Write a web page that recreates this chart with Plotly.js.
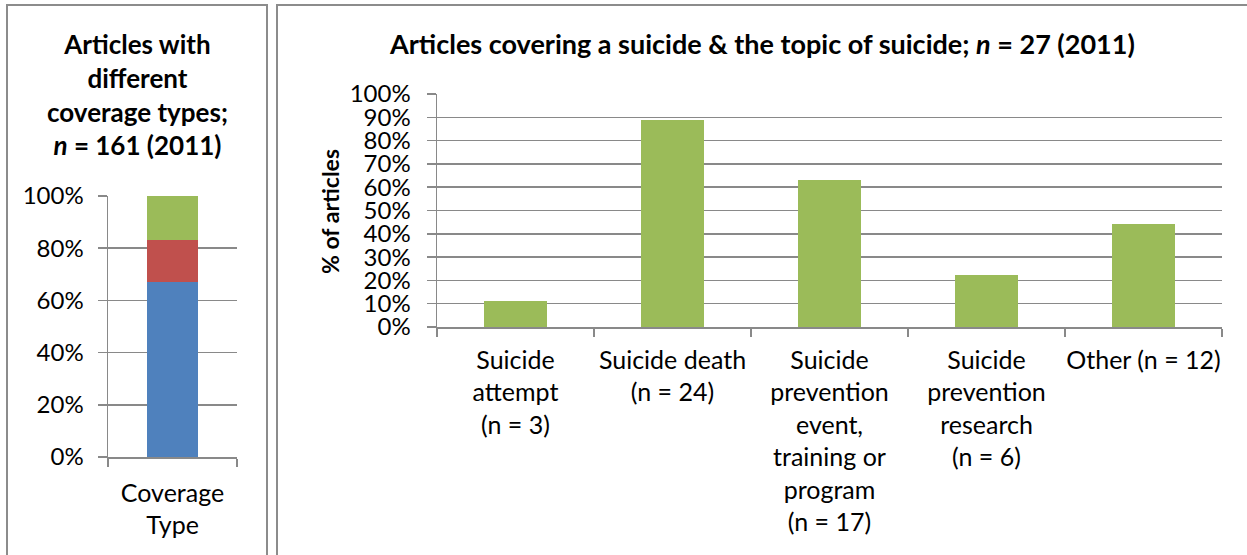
<!DOCTYPE html>
<html>
<head>
<meta charset="utf-8">
<script src="https://cdn.plot.ly/plotly-3.0.1.min.js"></script>
<style>html,body{margin:0;padding:0;background:#fff;}#chart{width:1247px;height:555px;}</style>
</head>
<body>
<div id="chart"></div>
<script>
// Left panel: coverage types (share of 161 articles)
const coverageCategory = ['Coverage<br>Type'];
const coverageBlue = [0.671];
const coverageRed = [0.161];
const coverageGreen = [0.168];
const coverageSeriesNames = ['Series 1', 'Series 2', 'Articles covering a suicide & the topic of suicide'];

// Right panel: articles covering a suicide & the topic of suicide (n = 27)
const topicCategories = [
  'Suicide<br>attempt<br>(n = 3)',
  'Suicide death<br>(n = 24)',
  'Suicide<br>prevention<br>event,<br>training or<br>program<br>(n = 17)',
  'Suicide<br>prevention<br>research<br>(n = 6)',
  'Other (n = 12)'
];
const topicValues = [0.111, 0.889, 0.630, 0.222, 0.444];

const leftTitle = 'Articles with<br>different<br>coverage types;<br><i>n</i> = 161 (2011)';
const rightTitle = 'Articles covering a suicide &amp; the topic of suicide; <i>n</i> = 27 (2011)';
const yTitle = '% of articles';

const W = 1247, H = 555;
const px = v => v / W;
const py = v => 1 - v / H;
const FONT = 'Lato, "Open Sans", sans-serif';
const GRID = '#898989';

const traces = [
  {type: 'bar', x: coverageCategory, y: coverageBlue, name: coverageSeriesNames[0], marker: {color: '#4F81BD'}, xaxis: 'x', yaxis: 'y', hoverinfo: 'y'},
  {type: 'bar', x: coverageCategory, y: coverageRed, name: coverageSeriesNames[1], marker: {color: '#C0504D'}, xaxis: 'x', yaxis: 'y', hoverinfo: 'y'},
  {type: 'bar', x: coverageCategory, y: coverageGreen, name: coverageSeriesNames[2], marker: {color: '#9BBB59'}, xaxis: 'x', yaxis: 'y', hoverinfo: 'y'},
  {type: 'bar', x: topicCategories, y: topicValues, name: 'Topic', marker: {color: '#9BBB59'}, xaxis: 'x2', yaxis: 'y2', hoverinfo: 'y'}
];

const axisCommon = {
  showline: true, linecolor: GRID, linewidth: 1.5,
  ticks: 'outside', tickcolor: GRID, tickwidth: 1.5,
  tickfont: {family: FONT, size: 24, color: '#000'},
  fixedrange: true
};

const layout = {
  width: W, height: H,
  margin: {l: 0, r: 0, t: 0, b: 0},
  paper_bgcolor: '#fff', plot_bgcolor: '#fff',
  showlegend: false,
  barmode: 'stack',
  bargap: 0.6,
  font: {family: FONT, color: '#000'},
  xaxis: Object.assign({}, axisCommon, {
    domain: [px(108), px(237)], anchor: 'y', type: 'category',
    tickson: 'boundaries', ticklen: 8, showgrid: false, tickangle: 0,
    tickfont: {family: FONT, size: 25, color: '#000'}, ticklabelstandoff: 13
  }),
  yaxis: Object.assign({}, axisCommon, {
    domain: [py(457), py(196)], anchor: 'x', range: [0, 1],
    tickvals: [0, 0.2, 0.4, 0.6, 0.8, 1], tickformat: '.0%',
    ticklen: 9, showgrid: true, gridcolor: GRID, gridwidth: 1.5, zeroline: false,
    ticklabelstandoff: 9
  }),
  xaxis2: Object.assign({}, axisCommon, {
    domain: [px(437), px(1222)], anchor: 'y2', type: 'category',
    tickson: 'boundaries', ticklen: 8, showgrid: false, tickangle: 0,
    tickfont: {family: FONT, size: 25, color: '#000'}, ticklabelstandoff: 10
  }),
  yaxis2: Object.assign({}, axisCommon, {
    domain: [py(327), py(94)], anchor: 'x2', range: [0, 1],
    dtick: 0.1, tickformat: '.0%',
    ticklen: 9, showgrid: true, gridcolor: GRID, gridwidth: 1.5, zeroline: false,
    ticklabelstandoff: 11
  }),
  annotations: [
    {xref: 'paper', yref: 'paper', x: px(137), y: py(94), text: leftTitle, showarrow: false,
     font: {family: FONT, size: 26, color: '#000', weight: 'bold'}, xanchor: 'center', yanchor: 'middle', align: 'center'},
    {xref: 'paper', yref: 'paper', x: px(762), y: py(44), text: rightTitle, showarrow: false,
     font: {family: FONT, size: 27, color: '#000', weight: 'bold'}, xanchor: 'center', yanchor: 'middle'},
    {xref: 'paper', yref: 'paper', x: px(330), y: py(212), text: yTitle, showarrow: false, textangle: -90,
     font: {family: FONT, size: 23, color: '#000', weight: 'bold'}, xanchor: 'center', yanchor: 'middle'}
  ],
  shapes: [
    {type: 'path', xref: 'paper', yref: 'paper', path: `M ${px(7)} 0 L ${px(7)} ${py(5)} L ${px(267)} ${py(5)} L ${px(267)} 0`,
     line: {color: '#8c8c8c', width: 2}},
    {type: 'path', xref: 'paper', yref: 'paper', path: `M ${px(277)} 0 L ${px(277)} ${py(5)} L 1 ${py(5)}`,
     line: {color: '#8c8c8c', width: 2}}
  ]
};

Plotly.newPlot('chart', traces, layout, {displayModeBar: false, staticPlot: true});
</script>
</body>
</html>
